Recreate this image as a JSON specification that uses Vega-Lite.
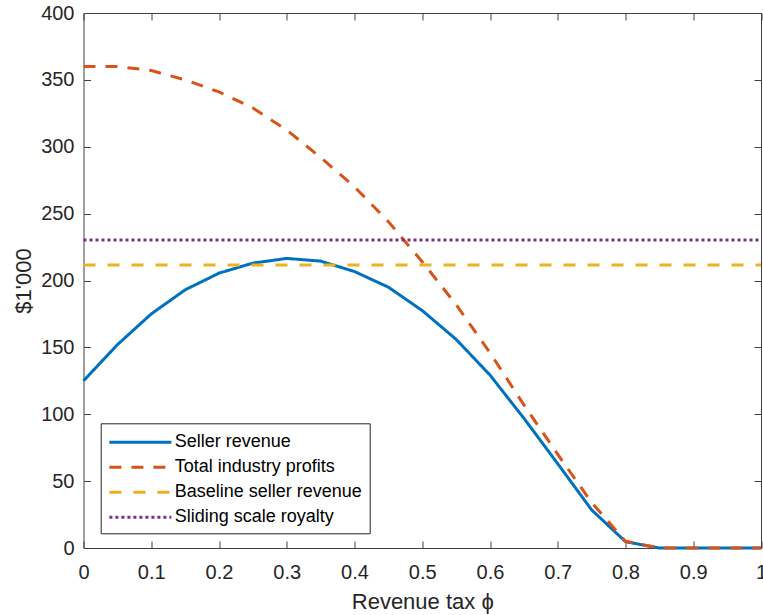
{
  "$schema": "https://vega.github.io/schema/vega-lite/v6.json",
  "autosize": "none",
  "width": 677.5,
  "height": 535,
  "padding": {"left": 83.5, "top": 13, "right": 2, "bottom": 67},
  "background": "white",
  "config": {
    "view": {"stroke": "#404040", "strokeWidth": 1},
    "axis": {
      "grid": false,
      "domain": false,
      "offset": -7,
      "tickColor": "#404040",
      "tickWidth": 1,
      "tickSize": 7,
      "labelFont": "Liberation Sans",
      "labelFontSize": 20,
      "labelColor": "#262626",
      "titleFont": "Liberation Sans",
      "titleFontSize": 22,
      "titleFontWeight": "normal",
      "titleColor": "#262626"
    },
    "legend": {
      "orient": "none",
      "legendX": 17.2,
      "legendY": 410.3,
      "fillColor": "white",
      "strokeColor": "#262626",
      "padding": 7,
      "symbolType": "M-3,0H3",
      "symbolSize": 427,
      "symbolOffset": 20.7,
      "symbolStrokeWidth": 3,
      "symbolFillColor": "transparent",
      "labelFont": "Liberation Sans",
      "labelFontSize": 18,
      "labelColor": "#000000",
      "labelOffset": 22.3,
      "labelLimit": 400,
      "rowPadding": 4
    }
  },
  "data": {
    "values": [
      {"tax": 0.0, "value": 125, "series": "Seller revenue"},
      {"tax": 0.05, "value": 152, "series": "Seller revenue"},
      {"tax": 0.1, "value": 175, "series": "Seller revenue"},
      {"tax": 0.15, "value": 193, "series": "Seller revenue"},
      {"tax": 0.2, "value": 205.5, "series": "Seller revenue"},
      {"tax": 0.25, "value": 213, "series": "Seller revenue"},
      {"tax": 0.3, "value": 216.5, "series": "Seller revenue"},
      {"tax": 0.35, "value": 214.5, "series": "Seller revenue"},
      {"tax": 0.4, "value": 206.7, "series": "Seller revenue"},
      {"tax": 0.45, "value": 195, "series": "Seller revenue"},
      {"tax": 0.5, "value": 177.5, "series": "Seller revenue"},
      {"tax": 0.55, "value": 156, "series": "Seller revenue"},
      {"tax": 0.6, "value": 129.3, "series": "Seller revenue"},
      {"tax": 0.65, "value": 97, "series": "Seller revenue"},
      {"tax": 0.7, "value": 63, "series": "Seller revenue"},
      {"tax": 0.75, "value": 28.5, "series": "Seller revenue"},
      {"tax": 0.8, "value": 4.7, "series": "Seller revenue"},
      {"tax": 0.85, "value": 0, "series": "Seller revenue"},
      {"tax": 0.9, "value": 0, "series": "Seller revenue"},
      {"tax": 0.95, "value": 0, "series": "Seller revenue"},
      {"tax": 1.0, "value": 0, "series": "Seller revenue"},
      {"tax": 0.0, "value": 360, "series": "Total industry profits"},
      {"tax": 0.05, "value": 360, "series": "Total industry profits"},
      {"tax": 0.1, "value": 357, "series": "Total industry profits"},
      {"tax": 0.15, "value": 350, "series": "Total industry profits"},
      {"tax": 0.2, "value": 341, "series": "Total industry profits"},
      {"tax": 0.25, "value": 329, "series": "Total industry profits"},
      {"tax": 0.3, "value": 312.5, "series": "Total industry profits"},
      {"tax": 0.35, "value": 292, "series": "Total industry profits"},
      {"tax": 0.4, "value": 270, "series": "Total industry profits"},
      {"tax": 0.45, "value": 244, "series": "Total industry profits"},
      {"tax": 0.5, "value": 214, "series": "Total industry profits"},
      {"tax": 0.55, "value": 182, "series": "Total industry profits"},
      {"tax": 0.6, "value": 146, "series": "Total industry profits"},
      {"tax": 0.65, "value": 107, "series": "Total industry profits"},
      {"tax": 0.7, "value": 70, "series": "Total industry profits"},
      {"tax": 0.75, "value": 34, "series": "Total industry profits"},
      {"tax": 0.8, "value": 5, "series": "Total industry profits"},
      {"tax": 0.85, "value": 0, "series": "Total industry profits"},
      {"tax": 0.9, "value": 0, "series": "Total industry profits"},
      {"tax": 0.95, "value": 0, "series": "Total industry profits"},
      {"tax": 1.0, "value": 0, "series": "Total industry profits"},
      {"tax": 0.0, "value": 211.5, "series": "Baseline seller revenue"},
      {"tax": 1.0, "value": 211.5, "series": "Baseline seller revenue"},
      {"tax": 0.0, "value": 230.3, "series": "Sliding scale royalty"},
      {"tax": 1.0, "value": 230.3, "series": "Sliding scale royalty"}
    ]
  },
  "layer": [
    {
      "mark": {"type": "line", "strokeWidth": 3},
      "encoding": {
        "x": {
          "field": "tax",
          "type": "quantitative",
          "scale": {"domain": [0, 1], "nice": false, "zero": false},
          "axis": {
            "orient": "bottom",
            "values": [0, 0.1, 0.2, 0.3, 0.4, 0.5, 0.6, 0.7, 0.8, 0.9, 1],
            "format": "~g",
            "labelPadding": 14,
            "labelFlush": false,
            "title": "Revenue tax ϕ",
            "titleY": 67,
            "titleBaseline": "alphabetic"
          }
        },
        "y": {
          "field": "value",
          "type": "quantitative",
          "scale": {"domain": [0, 400], "nice": false},
          "axis": {
            "orient": "left",
            "values": [0, 50, 100, 150, 200, 250, 300, 350, 400],
            "labelPadding": 9.5,
            "title": "$1'000",
            "titleX": -60,
            "titleY": 267.5,
            "titleAngle": -90,
            "titleAlign": "center",
            "titleBaseline": "alphabetic"
          }
        },
        "color": {
          "field": "series",
          "type": "nominal",
          "scale": {
            "domain": ["Seller revenue", "Total industry profits", "Baseline seller revenue", "Sliding scale royalty"],
            "range": ["#0072BD", "#D95319", "#EDB120", "#7E2F8E"]
          },
          "legend": {"title": null}
        },
        "strokeDash": {
          "field": "series",
          "type": "nominal",
          "scale": {
            "domain": ["Seller revenue", "Total industry profits", "Baseline seller revenue", "Sliding scale royalty"],
            "range": [[1, 0], [12, 10], [12, 12], [3, 3]]
          },
          "legend": {"title": null}
        }
      }
    },
    {
      "mark": {"type": "point", "opacity": 0},
      "encoding": {
        "x": {
          "field": "tax",
          "type": "quantitative",
          "axis": {
            "orient": "top",
            "values": [0, 0.1, 0.2, 0.3, 0.4, 0.5, 0.6, 0.7, 0.8, 0.9, 1],
            "labels": false,
            "title": null
          }
        },
        "y": {
          "field": "value",
          "type": "quantitative",
          "axis": {
            "orient": "right",
            "values": [0, 50, 100, 150, 200, 250, 300, 350, 400],
            "labels": false,
            "title": null
          }
        }
      }
    }
  ],
  "resolve": {"axis": {"x": "independent", "y": "independent"}}
}
